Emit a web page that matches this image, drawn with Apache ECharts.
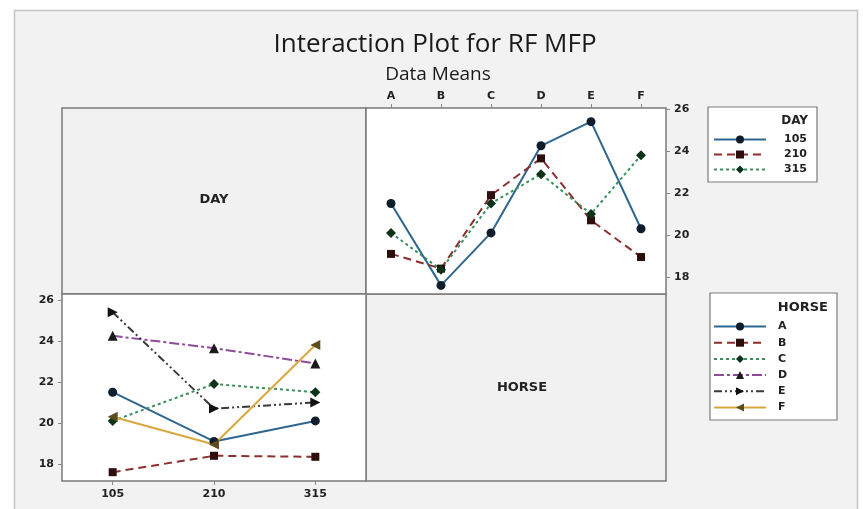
<!DOCTYPE html>
<html><head><meta charset="utf-8">
<script src="https://cdn.jsdelivr.net/npm/echarts@6/dist/echarts.min.js"></script>
<style>html,body{margin:0;padding:0;background:#fff}#c{width:863px;height:509px}</style>
</head><body><div id="c"></div>
<script>
// ---- data (means of RF MFP) ----
const horses = ['A', 'B', 'C', 'D', 'E', 'F'];
const days = ['105', '210', '315'];
// mean for each HORSE at DAY 105, 210, 315
const horseA = [21.5, 19.1, 20.1];
const horseB = [17.6, 18.4, 18.35];
const horseC = [20.1, 21.9, 21.5];
const horseD = [24.25, 23.65, 22.9];
const horseE = [25.4, 20.7, 21.0];
const horseF = [20.3, 18.95, 23.8];
const yTicks = [18, 20, 22, 24, 26];
const titleText = 'Interaction Plot for RF MFP';
const subtitleText = 'Data Means';

const horseRows = [horseA, horseB, horseC, horseD, horseE, horseF];
// DAY series across horses (same table, read by column)
const dayRows = days.map((d, j) => horseRows.map(r => r[j]));

const FONT = '"Open Sans", "Noto Sans", sans-serif';
const LFONT = '"DejaVu Sans", sans-serif';

const dayStyle = [
  { line: '#2f6690', mark: '#0f1d2c', type: 'solid', symbol: 'circle', size: 9, rot: 0 },
  { line: '#8c2f2f', mark: '#2e0d0d', type: [8, 5], symbol: 'rect', size: 8, rot: 0 },
  { line: '#3d8f5e', mark: '#0c3318', type: [3, 3], symbol: 'diamond', size: 10, rot: 0 }
];
const horseStyle = [
  { line: '#2f6690', mark: '#0f1d2c', type: 'solid', symbol: 'circle', size: 9, rot: 0 },
  { line: '#8c2f2f', mark: '#2e0d0d', type: [8, 5], symbol: 'rect', size: 8, rot: 0 },
  { line: '#3d8f5e', mark: '#0c3318', type: [3, 3], symbol: 'diamond', size: 10, rot: 0 },
  { line: '#8e4a9a', mark: '#1a1a1a', type: [10, 3, 3, 3], symbol: 'triangle', size: 10, rot: 0 },
  { line: '#3a3a3a', mark: '#111111', type: [8, 3, 2, 3, 2, 3], symbol: 'triangle', size: 10, rot: -90 },
  { line: '#d8a83c', mark: '#5e4d1c', type: 'solid', symbol: 'triangle', size: 10, rot: 90 }
];

const series = [];
days.forEach((d, i) => {
  const s = dayStyle[i];
  series.push({
    name: d, type: 'line', xAxisIndex: 0, yAxisIndex: 0,
    data: dayRows[i], symbol: s.symbol, symbolSize: s.size, symbolRotate: s.rot,
    lineStyle: { color: s.line, width: 2, type: s.type },
    itemStyle: { color: s.mark }, emphasis: { disabled: true }, animation: false
  });
});
horses.forEach((h, i) => {
  const s = horseStyle[i];
  series.push({
    name: h, type: 'line', xAxisIndex: 1, yAxisIndex: 1,
    data: horseRows[i], symbol: s.symbol, symbolSize: s.size, symbolRotate: s.rot,
    lineStyle: { color: s.line, width: 2, type: s.type },
    itemStyle: { color: s.mark }, emphasis: { disabled: true }, animation: false
  });
});

const labelStyle = { color: '#222', fontSize: 11, fontWeight: 'bold', fontFamily: LFONT };

const option = {
  animation: false,
  textStyle: { fontFamily: FONT },
  grid: [
    { left: 366, top: 108, width: 300, height: 186, show: true, backgroundColor: '#fff', borderColor: '#7a7a7a', borderWidth: 1.5 },
    { left: 62, top: 294, width: 304, height: 187, show: true, backgroundColor: '#fff', borderColor: '#7a7a7a', borderWidth: 1.5 }
  ],
  xAxis: [
    { gridIndex: 0, type: 'category', data: horses, position: 'top', boundaryGap: true,
      axisLine: { show: false }, axisTick: { show: true, alignWithLabel: true, length: 4, lineStyle: { color: '#888' } },
      axisLabel: Object.assign({ margin: 6 }, labelStyle) },
    { gridIndex: 1, type: 'category', data: days, position: 'bottom', boundaryGap: true,
      axisLine: { show: false }, axisTick: { show: true, alignWithLabel: true, length: 4, lineStyle: { color: '#888' } },
      axisLabel: Object.assign({ margin: 8 }, labelStyle) }
  ],
  yAxis: [
    { gridIndex: 0, type: 'value', position: 'right', min: 17.19, max: 26.05,
      axisLine: { show: false }, splitLine: { show: false },
      axisTick: { show: true, length: 4, customValues: yTicks, lineStyle: { color: '#888' } },
      axisLabel: Object.assign({ customValues: yTicks, margin: 8 }, labelStyle) },
    { gridIndex: 1, type: 'value', position: 'left', min: 17.17, max: 26.29,
      axisLine: { show: false }, splitLine: { show: false },
      axisTick: { show: true, length: 4, customValues: yTicks, lineStyle: { color: '#888' } },
      axisLabel: Object.assign({ customValues: yTicks, margin: 8 }, labelStyle) }
  ],
  legend: [
    { data: days, orient: 'vertical', left: 713, top: 134, itemWidth: 52, itemHeight: 10, itemGap: 4,
      selectedMode: false, z: 10, padding: 0,
      textStyle: Object.assign({ padding: [0, 0, 0, 13], lineHeight: 10 }, labelStyle) },
    { data: horses, orient: 'vertical', left: 713, top: 321, itemWidth: 52, itemHeight: 10, itemGap: 5.2,
      selectedMode: false, z: 10, padding: 0,
      textStyle: Object.assign({ padding: [0, 0, 0, 7], lineHeight: 10 }, labelStyle) }
  ],
  graphic: [
    { type: 'rect', z: -10, shape: { x: 14.5, y: 10.5, width: 843, height: 520 },
      style: { fill: '#f2f2f2', stroke: '#c4c4c4', lineWidth: 1.5 } },
    { type: 'rect', z: -5, shape: { x: 62, y: 108, width: 304, height: 186 },
      style: { fill: '#f1f1f1', stroke: '#7a7a7a', lineWidth: 1.5 } },
    { type: 'rect', z: -5, shape: { x: 366, y: 294, width: 300, height: 187 },
      style: { fill: '#f1f1f1', stroke: '#7a7a7a', lineWidth: 1.5 } },
    { type: 'rect', z: 1, shape: { x: 708, y: 107, width: 109, height: 75 },
      style: { fill: '#fff', stroke: '#7a7a7a', lineWidth: 1.2 } },
    { type: 'rect', z: 1, shape: { x: 710, y: 293, width: 127, height: 127 },
      style: { fill: '#fff', stroke: '#7a7a7a', lineWidth: 1.2 } },
    { type: 'text', z: 5, x: 435, y: 45, style: { text: titleText, fill: '#1a1a1a', font: '26px ' + FONT, textAlign: 'center', textVerticalAlign: 'middle' } },
    { type: 'text', z: 5, x: 438, y: 75, style: { text: subtitleText, fill: '#1a1a1a', font: '19px ' + FONT, textAlign: 'center', textVerticalAlign: 'middle' } },
    { type: 'text', z: 5, x: 214, y: 200, style: { text: 'DAY', fill: '#222', font: 'bold 13px ' + LFONT, textAlign: 'center', textVerticalAlign: 'middle' } },
    { type: 'text', z: 5, x: 522, y: 388, style: { text: 'HORSE', fill: '#222', font: 'bold 13px ' + LFONT, textAlign: 'center', textVerticalAlign: 'middle' } },
    { type: 'text', z: 5, x: 808, y: 121, style: { text: 'DAY', fill: '#222', font: 'bold 12px ' + LFONT, textAlign: 'right', textVerticalAlign: 'middle' } },
    { type: 'text', z: 5, x: 828, y: 308, style: { text: 'HORSE', fill: '#222', font: 'bold 13px ' + LFONT, textAlign: 'right', textVerticalAlign: 'middle' } }
  ],
  series: series
};

const chart = echarts.init(document.getElementById('c'), null, { renderer: 'canvas' });
chart.setOption(option);
</script>
</body></html>
